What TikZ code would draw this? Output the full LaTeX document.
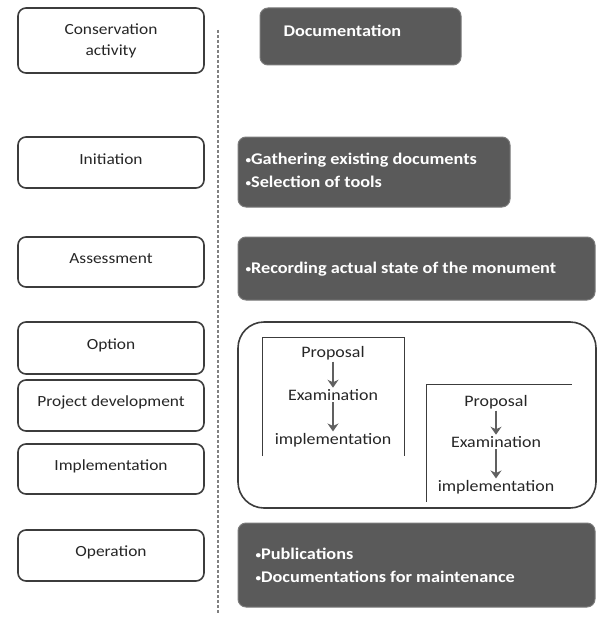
\documentclass[tikz,border=0pt]{standalone}
\usepackage{fontspec}
\setmainfont{Carlito}[FakeStretch=1.12]
\usetikzlibrary{arrows.meta}
\definecolor{darkfill}{HTML}{5A5A5A}
\definecolor{edgegray}{HTML}{3C3C3C}
\definecolor{arrowgray}{HTML}{606060}
\newcommand\smbul{\raisebox{0.12ex}{\fontsize{10}{10}\selectfont•}}
\tikzset{
  leftbox/.style={draw=edgegray, line width=1.6pt, rounded corners=8pt, fill=white},
  darkbox/.style={draw=darkfill!80!white, line width=1pt, fill=darkfill, rounded corners=8pt},
  lefttext/.style={font=\fontsize{15.5}{21}\selectfont, text=black!85, align=center},
  darktext/.style={font=\fontsize{16.3}{23}\selectfont\bfseries, text=white, align=left, anchor=west},
  steptext/.style={font=\fontsize{16}{17}\selectfont, text=black!85, inner sep=1.5pt},
  downarrow/.style={-{Stealth[length=8pt,width=11pt]}, draw=arrowgray, line width=2.2pt},
}
\begin{document}
\begin{tikzpicture}[x=1pt,y=-1pt]
\useasboundingbox (0,0) rectangle (597,618);
% dashed divider
\coordinate (dtop) at (218,30);
\coordinate (dbot) at (218,614);
\draw[dashed, draw=gray, line width=1.2pt, dash pattern=on 3pt off 2pt] (dtop) -- (dbot);

% left boxes
\draw[leftbox] (18,8) rectangle (204,73);
\node[lefttext] (ca) at (111,41) {Conservation\\activity};
\draw[leftbox] (18,137) rectangle (204,188);
\node[lefttext] (ini) at (111,159) {Initiation};
\draw[leftbox] (18,237) rectangle (204,287);
\node[lefttext] (ass) at (111,259) {Assessment};
\draw[leftbox] (18,322) rectangle (204,374);
\node[lefttext] (opt) at (111,345) {Option};
\draw[leftbox] (18,380) rectangle (204,431);
\node[lefttext] (pd) at (111,402) {Project development};
\draw[leftbox] (18,444) rectangle (204,494);
\node[lefttext] (imp) at (111,466) {Implementation};
\draw[leftbox] (18,530) rectangle (204,581);
\node[lefttext] (op) at (111,552) {Operation};

% right dark boxes
\draw[darkbox] (260,8) rectangle (461,65);
\node[darktext] (doc) at (280,31) {Documentation};
\draw[darkbox] (238,137) rectangle (510,207);
\node[darktext] (inid) at (242,170) {\smbul Gathering existing documents\\\smbul Selection of tools};
\draw[darkbox] (238,237) rectangle (595,300);
\node[darktext] (assd) at (242,269) {\smbul Recording actual state of the monument};
\draw[darkbox] (238,523) rectangle (595,607);
\node[darktext] (opd) at (252,565) {\smbul Publications\\\smbul Documentations for maintenance};

% big white box
\draw[draw=edgegray, line width=1.6pt, rounded corners=26pt] (238,322) rectangle (596,508);
% inner box 1
\draw[draw=edgegray, line width=1pt] (262,456) -- (262,337) -- (404,337) -- (404,456);
\node[steptext] (p1) at (333,353) {Proposal};
\node[steptext] (e1) at (333,395) {Examination};
\node[steptext] (i1) at (333,440) {implementation};
\draw[downarrow] (p1) -- (e1);
\draw[downarrow] (e1) -- (i1);
% inner box 2
\draw[draw=edgegray, line width=1pt] (426,502) -- (426,384) -- (572,384);
\node[steptext] (p2) at (496,402) {Proposal};
\node[steptext] (e2) at (496,442) {Examination};
\node[steptext] (i2) at (496,487) {implementation};
\draw[downarrow] (p2) -- (e2);
\draw[downarrow] (e2) -- (i2);
\end{tikzpicture}
\end{document}
